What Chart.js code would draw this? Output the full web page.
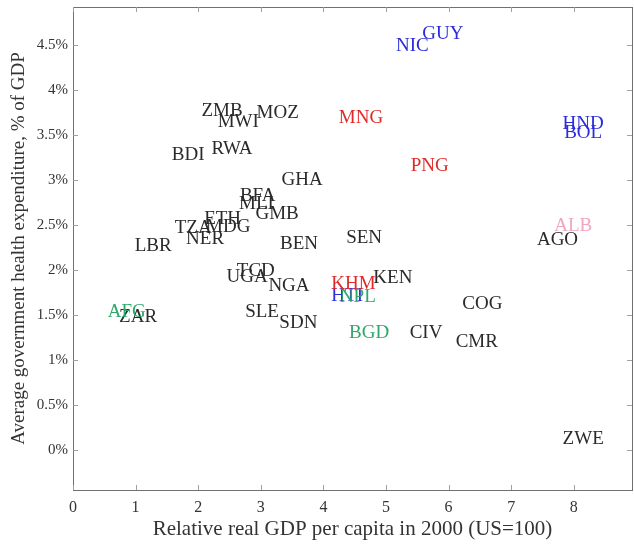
<!DOCTYPE html>
<html>
<head>
<meta charset="utf-8">
<script src="https://cdn.jsdelivr.net/npm/chart.js@4.4.1/dist/chart.umd.min.js"></script>
<style>
  html, body { margin: 0; padding: 0; background: #fff; }
  #wrap { width: 634px; height: 546px; }
</style>
</head>
<body>
<div id="wrap"><canvas id="scatter"></canvas></div>
<script>
// country codes, relative GDP per capita (US=100) and health spending (% of GDP)
const countries = ['GUY', 'NIC', 'ZMB', 'MOZ', 'MWI', 'MNG', 'HND', 'BOL', 'BDI', 'RWA',
    'PNG', 'GHA', 'BFA', 'MLI', 'GMB', 'ETH', 'MDG', 'TZA', 'NER', 'LBR',
    'BEN', 'SEN', 'ALB', 'AGO', 'TCD', 'UGA', 'NGA', 'KEN', 'KHM', 'HTI',
    'NPL', 'AFG', 'ZAR', 'SLE', 'SDN', 'COG', 'BGD', 'CIV', 'CMR', 'ZWE'];
const gdpRelative = [5.91, 5.42, 2.38, 3.27, 2.64, 4.60, 8.15, 8.15, 1.84, 2.54,
    5.70, 3.66, 2.95, 2.93, 3.26, 2.39, 2.48, 1.92, 2.11, 1.28,
    3.61, 4.65, 7.99, 7.74, 2.92, 2.78, 3.45, 5.11, 4.48, 4.38,
    4.55, 0.86, 1.04, 3.02, 3.60, 6.54, 4.73, 5.64, 6.45, 8.15];
const healthExp = [4.63, 4.50, 3.78, 3.76, 3.66, 3.70, 3.63, 3.53, 3.29, 3.35,
    3.17, 3.01, 2.83, 2.75, 2.63, 2.58, 2.49, 2.48, 2.36, 2.28,
    2.30, 2.37, 2.50, 2.35, 2.00, 1.94, 1.83, 1.92, 1.86, 1.72,
    1.71, 1.55, 1.49, 1.55, 1.42, 1.63, 1.31, 1.31, 1.21, 0.14];

// colour groups
const blueGroup = ['GUY', 'NIC', 'HND', 'BOL', 'HTI'];
const redGroup = ['MNG', 'PNG', 'KHM'];
const greenGroup = ['AFG', 'NPL', 'BGD'];
const pinkGroup = ['ALB'];

const xTicks = [0, 1, 2, 3, 4, 5, 6, 7, 8];
const yTicks = [0, 0.5, 1, 1.5, 2, 2.5, 3, 3.5, 4, 4.5];

const colours = {
    black: '#2a2a2a',
    blue: '#2b2bdc',
    red: '#e02a2a',
    green: '#2ea86a',
    pink: '#f0a6c0'
};

function groupOf(code) {
    if (blueGroup.includes(code)) return 'blue';
    if (redGroup.includes(code)) return 'red';
    if (greenGroup.includes(code)) return 'green';
    if (pinkGroup.includes(code)) return 'pink';
    return 'black';
}

const points = countries.map((c, i) => ({ x: gdpRelative[i], y: healthExp[i], code: c }));

const datasets = Object.keys(colours).map(g => ({
    label: g,
    data: points.filter(p => groupOf(p.code) === g),
    pointRadius: 0,
    pointHoverRadius: 0,
    labelColor: colours[g]
}));

const serif = '"Liberation Serif", "DejaVu Serif", serif';

// draw each country code centred on its point
const codeLabels = {
    id: 'codeLabels',
    afterDatasetsDraw(chart) {
        const ctx = chart.ctx;
        ctx.save();
        ctx.font = '19px ' + serif;
        ctx.textAlign = 'center';
        ctx.textBaseline = 'middle';
        chart.data.datasets.forEach((ds, di) => {
            const meta = chart.getDatasetMeta(di);
            ctx.fillStyle = ds.labelColor;
            meta.data.forEach((el, i) => {
                // +1 so the capitals sit visually centred
                ctx.fillText(ds.data[i].code, el.x, el.y + 1);
            });
        });
        ctx.restore();
    }
};

// box around the plot with inward tick marks on all four sides
const frame = {
    id: 'frame',
    afterDraw(chart) {
        const { ctx, chartArea: a, scales } = chart;
        const len = 5;
        ctx.save();
        ctx.strokeStyle = '#707070';
        ctx.lineWidth = 1;
        ctx.strokeRect(a.left + 0.5, a.top + 0.5, a.right - a.left, a.bottom - a.top);
        ctx.strokeStyle = '#a0a0a0';
        ctx.beginPath();
        xTicks.forEach(v => {
            const px = Math.round(scales.x.getPixelForValue(v)) + 0.5;
            ctx.moveTo(px, a.bottom); ctx.lineTo(px, a.bottom - len);
            ctx.moveTo(px, a.top); ctx.lineTo(px, a.top + len);
        });
        yTicks.forEach(v => {
            const py = Math.round(scales.y.getPixelForValue(v)) + 0.5;
            ctx.moveTo(a.left, py); ctx.lineTo(a.left + len, py);
            ctx.moveTo(a.right, py); ctx.lineTo(a.right - len, py);
        });
        ctx.stroke();
        ctx.restore();
    }
};

new Chart(document.getElementById('scatter'), {
    type: 'scatter',
    data: { datasets },
    options: {
        responsive: true,
        maintainAspectRatio: false,
        animation: false,
        events: [],
        layout: { padding: { top: 7, right: 2, left: 0, bottom: 0 } },
        plugins: {
            legend: { display: false },
            tooltip: { enabled: false }
        },
        scales: {
            x: {
                type: 'linear',
                min: 0,
                max: 8.93,
                afterBuildTicks: s => { s.ticks = xTicks.map(v => ({ value: v })); },
                afterFit: s => { s.height = 56; s.paddingLeft = 0; s.paddingRight = 0; },
                grid: { display: false, drawTicks: false },
                border: { display: false },
                ticks: {
                    color: '#333',
                    font: { family: serif, size: 16 },
                    padding: 8,
                    maxRotation: 0
                },
                title: {
                    display: true,
                    text: 'Relative real GDP per capita in 2000 (US=100)',
                    color: '#333',
                    font: { family: serif, size: 21 },
                    padding: { top: 0, bottom: 4 }
                }
            },
            y: {
                type: 'linear',
                min: -0.44,
                max: 4.92,
                afterBuildTicks: s => { s.ticks = yTicks.map(v => ({ value: v })); },
                afterFit: s => { s.width = 73; s.paddingTop = 0; s.paddingBottom = 0; },
                grid: { display: false, drawTicks: false },
                border: { display: false },
                ticks: {
                    color: '#333',
                    font: { family: serif, size: 15 },
                    padding: 5,
                    callback: v => v + '%'
                },
                title: {
                    display: true,
                    text: 'Average government health expenditure, % of GDP',
                    color: '#333',
                    font: { family: serif, size: 19 },
                    padding: { top: 8, bottom: 0 }
                }
            }
        }
    },
    plugins: [codeLabels, frame]
});
</script>
</body>
</html>
